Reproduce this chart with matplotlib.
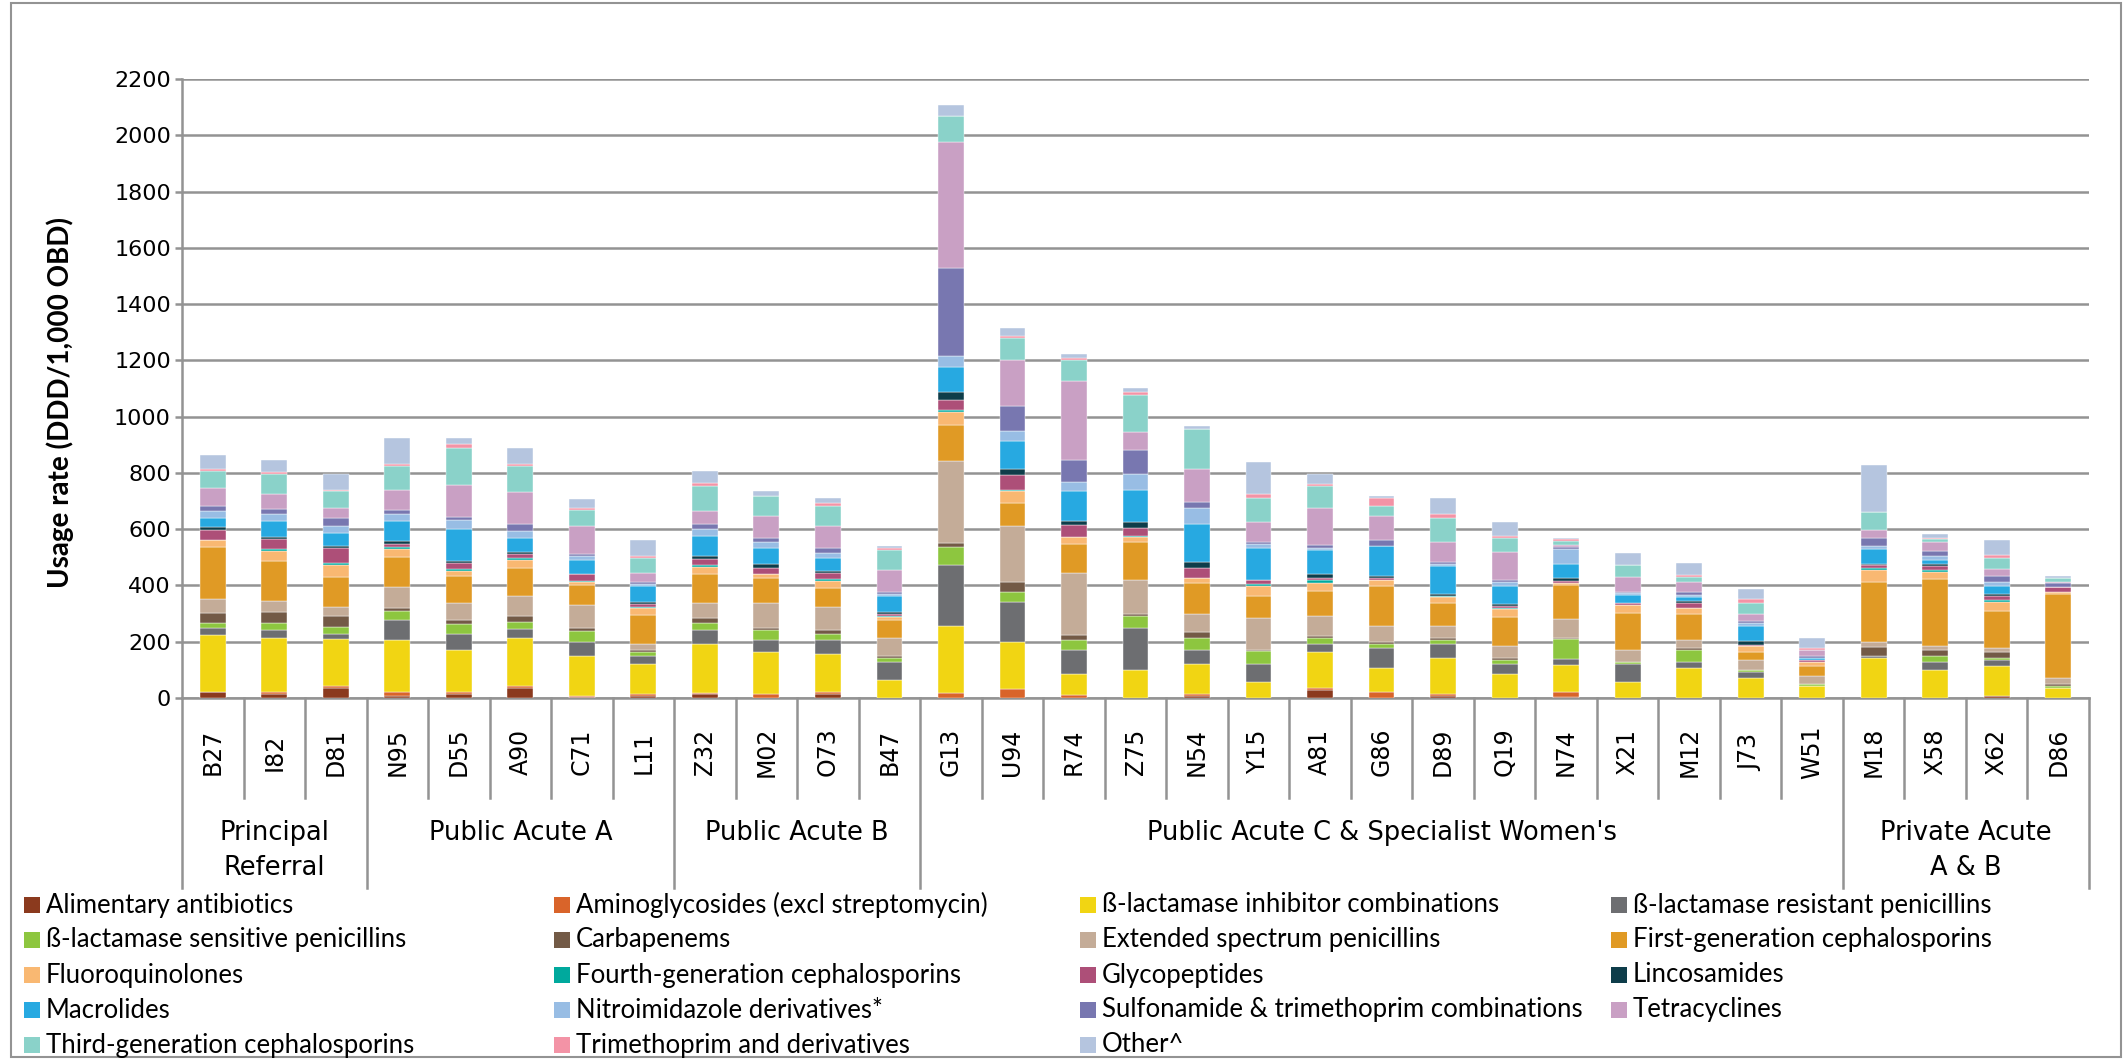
import numpy as np
import matplotlib
matplotlib.use('Agg')
import matplotlib.pyplot as plt
from matplotlib.patches import Rectangle

hospitals = ['B27', 'I82', 'D81', 'N95', 'D55', 'A90', 'C71', 'L11', 'Z32', 'M02', 'O73', 'B47',
             'G13', 'U94', 'R74', 'Z75', 'N54', 'Y15', 'A81', 'G86', 'D89', 'Q19', 'N74', 'X21',
             'M12', 'J73', 'W51', 'M18', 'X58', 'X62', 'D86']

groups = ['Principal\nReferral', 'Public Acute A', 'Public Acute B',
          "Public Acute C & Specialist Women's", 'Private Acute\nA & B']
group_sizes = [3, 5, 4, 15, 4]

# usage rate per antibiotic class, one value per hospital (same order as hospitals)
alimentary = [20, 13, 34, 6, 13, 35, 2, 7, 14, 0, 14, 0, 0, 0, 0, 0, 8, 0, 27, 0, 6, 0, 2, 0, 0, 0, 0, 0, 0, 8, 0]
aminoglycosides = [2, 7, 8, 14, 7, 7, 6, 7, 3, 14, 7, 0, 17, 32, 10, 0, 7, 0, 8, 20, 7, 0, 21, 0, 0, 0, 0, 0, 0, 0, 0]
bl_inhibitor = [201, 195, 166, 187, 151, 171, 143, 106, 176, 150, 136, 64, 239, 167, 75, 101, 106, 58, 127, 86, 129, 84, 93, 57, 107, 71, 43, 142, 99, 105, 35]
bl_resistant = [26, 26, 20, 71, 56, 33, 49, 29, 49, 42, 49, 64, 217, 141, 85, 148, 50, 64, 29, 71, 50, 36, 21, 64, 21, 21, 0, 7, 29, 21, 0]
bl_sensitive = [17, 24, 23, 30, 37, 24, 37, 14, 23, 37, 23, 14, 65, 36, 36, 44, 43, 44, 21, 14, 14, 14, 71, 7, 43, 7, 7, 0, 21, 7, 7]
carbapenems = [35, 41, 41, 13, 13, 20, 13, 7, 20, 6, 13, 7, 13, 35, 19, 7, 20, 6, 7, 7, 7, 7, 7, 1, 7, 1, 0, 33, 21, 21, 7]
extended = [52, 38, 30, 72, 59, 73, 80, 21, 51, 87, 80, 64, 291, 199, 220, 121, 65, 114, 71, 57, 43, 43, 64, 43, 29, 36, 29, 17, 14, 14, 21]
first_gen = [185, 142, 107, 107, 98, 98, 71, 105, 105, 90, 70, 63, 130, 82, 104, 132, 111, 78, 90, 143, 83, 105, 121, 129, 93, 29, 36, 212, 240, 133, 300]
fluoroquinolones = [22, 38, 43, 31, 16, 30, 13, 23, 24, 14, 23, 13, 46, 45, 23, 19, 17, 33, 30, 21, 21, 29, 7, 29, 19, 21, 14, 43, 24, 31, 7]
fourth_gen = [3, 6, 8, 5, 7, 6, 2, 6, 7, 2, 7, 1, 7, 1, 1, 2, 1, 9, 8, 1, 1, 1, 1, 0, 1, 0, 0, 7, 7, 7, 0]
glycopeptides = [35, 36, 52, 10, 23, 15, 23, 8, 21, 21, 21, 10, 35, 56, 43, 30, 35, 14, 7, 7, 2, 7, 7, 7, 17, 1, 7, 10, 14, 14, 19]
lincosamides = [8, 6, 7, 13, 7, 7, 1, 7, 13, 13, 7, 7, 27, 20, 13, 20, 20, 1, 14, 7, 7, 7, 13, 1, 7, 14, 0, 7, 7, 7, 0]
macrolides = [34, 58, 48, 71, 113, 50, 49, 58, 70, 57, 49, 57, 91, 98, 105, 114, 134, 112, 86, 107, 98, 64, 50, 29, 14, 55, 7, 50, 14, 29, 0]
nitroimidazole = [24, 23, 23, 24, 31, 23, 17, 7, 24, 23, 15, 7, 37, 37, 32, 59, 59, 15, 7, 1, 10, 14, 51, 7, 7, 10, 0, 14, 14, 14, 0]
sulfonamide = [20, 20, 28, 13, 12, 26, 6, 6, 19, 13, 20, 7, 314, 89, 81, 83, 20, 5, 13, 19, 7, 7, 6, 1, 12, 7, 7, 26, 19, 21, 12]
tetracyclines = [64, 52, 36, 72, 115, 114, 100, 35, 44, 79, 77, 77, 446, 164, 281, 64, 119, 72, 129, 86, 70, 100, 8, 55, 37, 27, 21, 30, 30, 26, 5]
third_gen = [59, 72, 60, 85, 129, 93, 57, 51, 92, 70, 73, 71, 92, 78, 73, 134, 141, 85, 79, 36, 86, 50, 14, 43, 15, 37, 0, 63, 13, 38, 14]
trimethoprim = [8, 8, 7, 8, 16, 8, 8, 8, 8, 1, 8, 8, 2, 6, 7, 9, 1, 14, 8, 29, 13, 7, 7, 1, 7, 14, 7, 1, 1, 12, 0]
other = [50, 42, 56, 93, 22, 57, 30, 57, 43, 17, 20, 7, 37, 29, 16, 13, 11, 114, 35, 7, 58, 50, 6, 40, 43, 36, 36, 167, 15, 52, 7]

series = [
    ('Alimentary antibiotics', alimentary, '#8b3a1e'),
    ('Aminoglycosides (excl streptomycin)', aminoglycosides, '#d9642a'),
    ('ß-lactamase inhibitor combinations', bl_inhibitor, '#f1d513'),
    ('ß-lactamase resistant penicillins', bl_resistant, '#6d6e71'),
    ('ß-lactamase sensitive penicillins', bl_sensitive, '#8dc63f'),
    ('Carbapenems', carbapenems, '#735a46'),
    ('Extended spectrum penicillins', extended, '#c4ac98'),
    ('First-generation cephalosporins', first_gen, '#e09a25'),
    ('Fluoroquinolones', fluoroquinolones, '#f9b872'),
    ('Fourth-generation cephalosporins', fourth_gen, '#00a99d'),
    ('Glycopeptides', glycopeptides, '#ad4f78'),
    ('Lincosamides', lincosamides, '#0e3d4a'),
    ('Macrolides', macrolides, '#27a9e1'),
    ('Nitroimidazole derivatives*', nitroimidazole, '#98bde4'),
    ('Sulfonamide & trimethoprim combinations', sulfonamide, '#7877b0'),
    ('Tetracyclines', tetracyclines, '#c9a0c4'),
    ('Third-generation cephalosporins', third_gen, '#8ad2c9'),
    ('Trimethoprim and derivatives', trimethoprim, '#f393a6'),
    ('Other^', other, '#b5c5df'),
]

W, H = 2125, 1060
grey = '#939393'
ax_left, ax_right, ax_top, ax_bottom = 182, 2089, 79, 698
ax_h = ax_bottom - ax_top

fig = plt.figure(figsize=(W / 100, H / 100), dpi=100)
ax = fig.add_axes([ax_left / W, 1 - ax_bottom / H, (ax_right - ax_left) / W, ax_h / H])

x = np.arange(len(hospitals))
bottom = np.zeros(len(hospitals))
for name, vals, col in series:
    vals = np.array(vals, dtype=float)
    ax.bar(x, vals, 0.42, bottom=bottom, color=col, edgecolor='white', linewidth=0.3, zorder=3)
    bottom += vals

ax.set_xlim(-0.5, len(hospitals) - 0.5)
ax.set_ylim(0, 2200)
ax.set_yticks(range(0, 2201, 200))
ax.yaxis.grid(True, color=grey, linewidth=1.8)
ax.set_axisbelow(True)
for s in ['top', 'right']:
    ax.spines[s].set_visible(False)
for s in ['left', 'bottom']:
    ax.spines[s].set_color(grey)
    ax.spines[s].set_linewidth(1.8)
ax.set_xticks([])
ax.tick_params(axis='y', length=5, width=1.8, color=grey, labelsize=16, pad=3)

# multi-level category axis (offsets below the axis in pixels)
trans = ax.get_xaxis_transform()
for i, h in enumerate(hospitals):
    ax.text(i, -54 / ax_h, h, rotation=90, ha='center', va='center', fontsize=17, transform=trans)

edges = np.concatenate([[0], np.cumsum(group_sizes)])
for b in range(len(hospitals) + 1):
    depth = 190 / ax_h if b in edges else 100 / ax_h
    ax.plot([b - 0.5, b - 0.5], [0, -depth], transform=trans, clip_on=False,
            color=grey, linewidth=1.8)
for g, lab in enumerate(groups):
    centre = (edges[g] + edges[g + 1] - 1) / 2
    ax.text(centre, -122 / ax_h, lab, ha='center', va='top', fontsize=18.5, linespacing=1.45,
            transform=trans)

fig.text(60 / W, 1 - 402 / H, 'Usage rate (DDD/1,000 OBD)', rotation=90, ha='center',
         va='center', fontsize=20, fontweight='bold', family=['Lato', 'DejaVu Sans'])

# legend, filled row by row like the original
col_x = [24, 554, 1080, 1611]
row_y = [905, 940, 975, 1010, 1045]
for k, (name, vals, col) in enumerate(series):
    r, c = divmod(k, 4)
    x0 = col_x[c] / W
    y0 = 1 - row_y[r] / H
    fig.patches.append(Rectangle((x0, y0 - 8 / H), 16 / W, 16 / H, transform=fig.transFigure,
                                 facecolor=col, edgecolor='none'))
    fig.text(x0 + 22 / W, y0, name, va='center', ha='left', fontsize=18.5,
             family=['Lato', 'DejaVu Sans'])

fig.patches.append(Rectangle((11 / W, 3 / H), (2121 - 11) / W, (1057 - 3) / H,
                             transform=fig.transFigure, fill=False, edgecolor=grey, linewidth=1.5))

fig.savefig('out.png', dpi=100)
